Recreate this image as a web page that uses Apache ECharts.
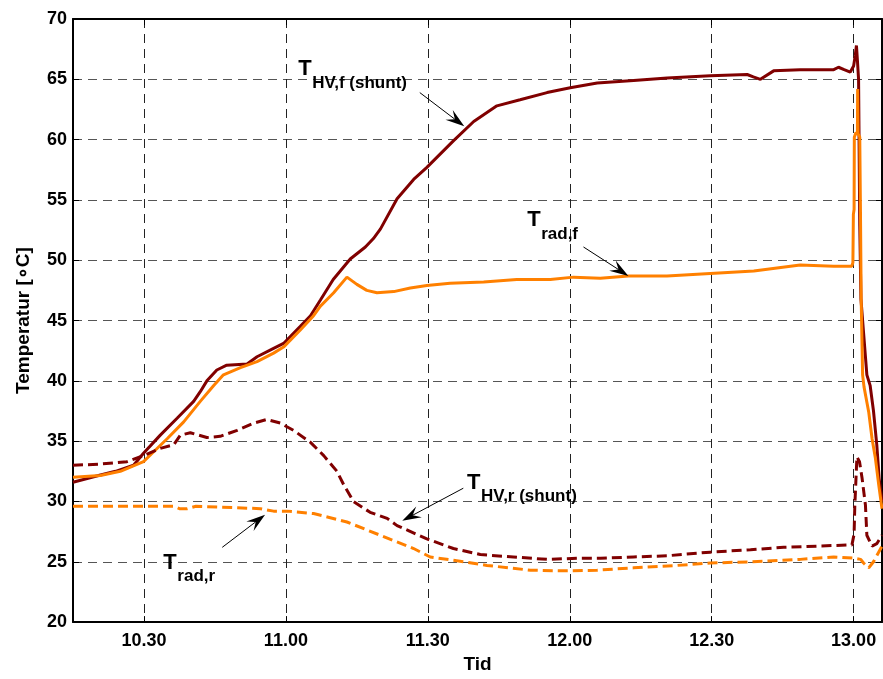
<!DOCTYPE html>
<html><head><meta charset="utf-8">
<script src="https://cdn.jsdelivr.net/npm/echarts@6/dist/echarts.min.js"></script>
<style>html,body{margin:0;padding:0;background:#fff}#c{width:883px;height:679px}</style>
</head><body><div id="c"></div>
<script>
// x values are minutes after 10:00
const xTickValues = [30, 60, 90, 120, 150, 180];
const xTickLabels = ['10.30', '11.00', '11.30', '12.00', '12.30', '13.00'];

const hvfTime = [15.0,20.8,24.0,27.8,29.9,33.45,37.0,40.5,41.9,43.3,45.4,47.5,51.8,53.9,57.4,59.5,63.0,65.2,67.3,70.0,73.6,76.8,78.5,80.0,83.5,87.0,89.8,95.4,99.7,104.6,109.5,115.2,120.1,125.8,133.5,140.6,149.7,157.5,158.8,160.3,163.1,168.7,175.8,176.8,178.0,179.3,180.0,180.35,180.6,180.8,181.05,181.3,181.55,182.1,182.8,183.5,184.2,184.9,185.4,186.0];
const hvfTemp = [31.6,32.2,32.5,33.0,34.0,35.5,36.9,38.3,39.1,40.0,40.9,41.3,41.4,42.0,42.7,43.1,44.5,45.4,46.7,48.4,50.1,51.1,51.8,52.6,55.1,56.7,57.7,59.9,61.5,62.8,63.3,63.9,64.3,64.7,64.9,65.1,65.3,65.4,65.2,65.0,65.7,65.8,65.8,66.0,65.8,65.6,66.1,67.0,67.8,66.6,65.0,52.9,46.8,44.0,40.5,39.6,37.5,34.7,31.9,30.0];

const radfTime = [15.0,20.8,25.0,29.9,32.0,34.9,38.4,41.9,44.7,46.8,50.4,53.9,57.4,59.5,63.0,65.85,67.3,70.1,72.9,75.0,77.1,79.25,82.8,86.3,89.8,94.7,101.8,108.8,115.9,120.8,126.45,132.4,140.55,149.7,158.9,168.7,175.8,179.6,179.85,179.95,180.1,180.15,180.5,180.8,180.85,180.95,181.3,181.45,181.6,181.9,182.2,183.2,183.9,184.6,185.3,186.0];
const radfTemp = [32.0,32.15,32.5,33.3,34.1,35.2,36.6,38.3,39.6,40.5,41.1,41.6,42.3,42.8,44.2,45.4,46.2,47.3,48.6,48.0,47.5,47.3,47.4,47.7,47.9,48.1,48.2,48.4,48.4,48.6,48.5,48.7,48.7,48.9,49.1,49.6,49.5,49.5,49.8,53.8,54.2,60.2,60.6,60.4,64.2,60.5,60.2,54.0,46.8,40.5,39.5,37.4,35.2,33.6,31.4,29.4];

const hvrTime = [15.0,20.8,26.4,29.9,33.45,36.3,37.7,39.8,43.3,46.1,49.7,53.2,56.0,58.8,61.6,65.2,68.0,70.8,72.2,74.3,77.8,81.4,83.5,89.8,95.4,101.1,108.1,115.2,122.2,126.5,133.5,140.6,149.7,158.2,165.2,172.3,179.65,180.1,180.25,180.7,181.25,181.8,182.5,182.8,183.9,184.9,186.0];
const hvrTemp = [33.0,33.1,33.3,33.8,34.4,34.7,35.5,35.7,35.3,35.4,35.9,36.5,36.8,36.5,35.9,34.9,33.8,32.5,31.4,30.0,29.1,28.6,28.0,26.9,26.1,25.6,25.4,25.2,25.3,25.3,25.4,25.5,25.8,26.0,26.2,26.3,26.4,27.3,29.6,33.7,33.3,31.9,29.7,27.2,26.3,26.5,27.2];

const radrTime = [15.0,36.3,37.5,39.1,41.0,48.9,54.6,57.4,60.2,65.85,72.9,79.95,87.0,90.5,97.6,102.5,111.7,118.7,125.75,133.5,142.7,149.7,158.2,168.7,175.8,180.0,181.5,182.1,183.2,184.2,186.0];
const radrTemp = [29.6,29.6,29.4,29.4,29.6,29.5,29.4,29.2,29.2,29.0,28.3,27.2,26.1,25.4,25.0,24.7,24.3,24.25,24.3,24.5,24.7,24.9,25.0,25.2,25.4,25.3,25.2,24.9,24.5,25.0,26.3];

// annotations: T anchor (left, cap-centre), subscript, arrow from -> to (data coords)
const annotations = [
  {at:[62.6,65.85], sub:'HV,f (shunt)', from:[88.3,63.9], to:[97.7,61.1]},
  {at:[111.0,53.33], sub:'rad,f', from:[122.9,51.1], to:[132.4,48.7]},
  {at:[98.3,31.56], sub:'HV,r (shunt)', from:[97.5,31.1], to:[84.6,28.4]},
  {at:[34.1,24.94], sub:'rad,r', from:[46.55,26.2], to:[55.6,28.9]}
];

const MAROON = '#800000', ORANGE = '#ff8000';
const FONT = '"Liberation Sans", Arial, Helvetica, sans-serif';
const zip = (a, b) => a.map((v, i) => [v, b[i]]);

const chart = echarts.init(document.getElementById('c'), null, {renderer: 'canvas'});
const labelStyle = {fontFamily: FONT, fontWeight: 'bold', fontSize: 18, color: '#000'};
const nameStyle = {fontFamily: FONT, fontWeight: 'bold', fontSize: 19, color: '#000'};
const option = {
  animation: false,
  backgroundColor: '#fff',
  grid: {left: 73, right: 1, top: 19, bottom: 55},
  xAxis: [{
    type: 'value', min: 15, max: 186, position: 'bottom',
    name: 'Tid', nameLocation: 'middle', nameGap: 29,
    nameTextStyle: nameStyle,
    axisLine: {show: true, onZero: false, lineStyle: {color: '#000', width: 2}},
    axisTick: {show: true, inside: true, length: 6, customValues: xTickValues, lineStyle: {color: '#000'}},
    axisLabel: Object.assign({show: true, customValues: xTickValues, margin: 10,
      formatter: v => xTickLabels[xTickValues.indexOf(v)]}, labelStyle),
    splitLine: {show: true, lineStyle: {color: '#222', type: [9, 6], width: 1}}
  }, {
    type: 'value', min: 15, max: 186, position: 'top',
    axisLine: {show: true, onZero: false, lineStyle: {color: '#000', width: 2}},
    axisTick: {show: true, inside: true, length: 6, customValues: xTickValues, lineStyle: {color: '#000'}},
    axisLabel: {show: false}, splitLine: {show: false}
  }],
  yAxis: [{
    type: 'value', min: 20, max: 70, interval: 5, position: 'left',
    name: 'Temperatur [\u2218C]', nameLocation: 'middle', nameGap: 40, nameRotate: 90,
    nameTextStyle: nameStyle,
    axisLine: {show: true, onZero: false, lineStyle: {color: '#000', width: 2}},
    axisTick: {show: true, inside: true, length: 6, lineStyle: {color: '#000'}},
    axisLabel: Object.assign({margin: 6}, labelStyle),
    splitLine: {show: true, lineStyle: {color: '#555', type: [9, 6], width: 1}}
  }, {
    type: 'value', min: 20, max: 70, interval: 5, position: 'right',
    axisLine: {show: true, onZero: false, lineStyle: {color: '#000', width: 2}},
    axisTick: {show: true, inside: true, length: 6, lineStyle: {color: '#000'}},
    axisLabel: {show: false}, splitLine: {show: false}
  }],
  series: [
    {name: 'T_HV,f', type: 'line', showSymbol: false, data: zip(hvfTime, hvfTemp),
     lineStyle: {color: MAROON, width: 3}, itemStyle: {color: MAROON}},
    {name: 'T_rad,f', type: 'line', showSymbol: false, data: zip(radfTime, radfTemp),
     lineStyle: {color: ORANGE, width: 3}, itemStyle: {color: ORANGE}},
    {name: 'T_HV,r', type: 'line', showSymbol: false, data: zip(hvrTime, hvrTemp),
     lineStyle: {color: MAROON, width: 3, type: [10, 5]}, itemStyle: {color: MAROON}},
    {name: 'T_rad,r', type: 'line', showSymbol: false, data: zip(radrTime, radrTemp),
     lineStyle: {color: ORANGE, width: 3, type: [10, 5]}, itemStyle: {color: ORANGE}}
  ]
};
chart.setOption(option);

const px = p => chart.convertToPixel({xAxisIndex: 0, yAxisIndex: 0}, p);
const g = [];
annotations.forEach(a => {
  const t = px(a.at);
  g.push({type: 'text', x: t[0], y: t[1], z: 100,
    style: {text: 'T', font: 'bold 22px ' + FONT, fill: '#000', align: 'left', verticalAlign: 'middle', textAlign: 'left', textVerticalAlign: 'middle'}});
  g.push({type: 'text', x: t[0] + 14, y: t[1] + 14, z: 100,
    style: {text: a.sub, font: 'bold 17px ' + FONT, fill: '#000', align: 'left', verticalAlign: 'middle', textAlign: 'left', textVerticalAlign: 'middle'}});
  const s = px(a.from), e = px(a.to);
  const dx = e[0] - s[0], dy = e[1] - s[1], len = Math.hypot(dx, dy);
  const ux = dx / len, uy = dy / len, nx = -uy, ny = ux;
  const L = 19, W = 6;
  const notch = [e[0] - ux * L * 0.62, e[1] - uy * L * 0.62];
  g.push({type: 'line', z: 100, shape: {x1: s[0], y1: s[1], x2: notch[0], y2: notch[1]},
    style: {stroke: '#000', lineWidth: 1}});
  g.push({type: 'polygon', z: 100, shape: {points: [
    e, [e[0] - ux * L + nx * W, e[1] - uy * L + ny * W], notch, [e[0] - ux * L - nx * W, e[1] - uy * L - ny * W]]},
    style: {fill: '#000'}});
});
chart.setOption({graphic: g});
</script>
</body></html>
